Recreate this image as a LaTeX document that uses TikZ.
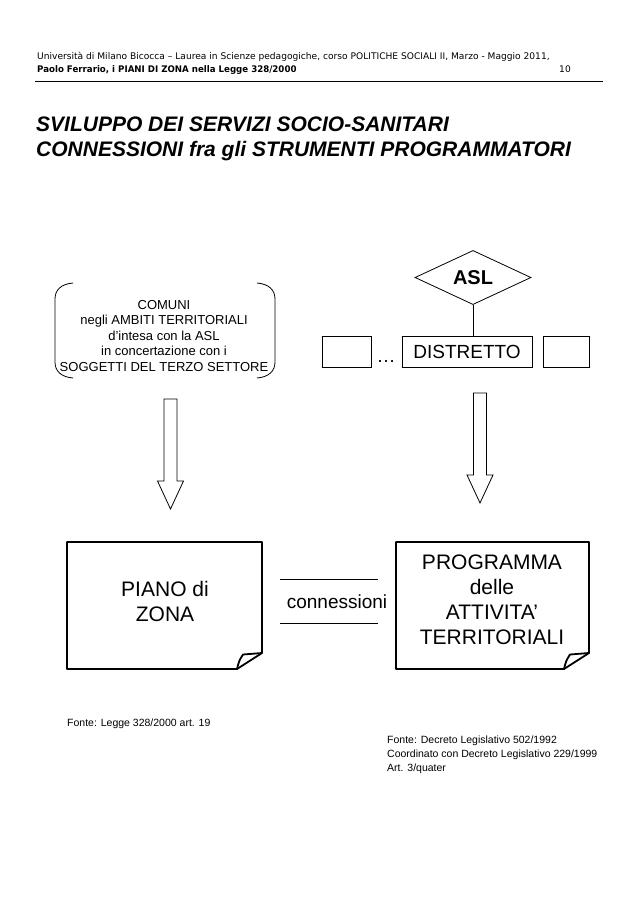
\documentclass[tikz,border=0pt]{standalone}
\usepackage{fontspec}
\setmainfont{Liberation Sans}
\newfontfamily\hdrfont{DejaVu Sans}
\usetikzlibrary{shapes.geometric}
\newcommand\mynote[4]{%
  \draw[notepen] (#1,#2) -- (#3,#2) -- (#3,#4-16) -- (#3-25,#4) -- (#1,#4) -- cycle;
  \draw[notepen] (#3-25,#4) .. controls (#3-23,#4-8) .. (#3-19,#4-14.5) .. controls (#3-10,#4-15.5) .. (#3,#4-16);}
\newcommand\blkarrow[4]{%
  \draw[thinpen] (#1-6.5,#2) -- (#1+6.5,#2) -- (#1+6.5,#3) -- (#1+13,#3) -- (#1,#4) -- (#1-13,#3) -- (#1-6.5,#3) -- cycle;}
\begin{document}
\begin{tikzpicture}[x=1pt,y=-1pt,
  thinpen/.style={line width=0.8pt},
  notepen/.style={line width=1.8pt, line join=round},
  hdr/.style={inner sep=0, font=\hdrfont\fontsize{9.1}{11}\selectfont},
  ttl/.style={inner sep=0, anchor=base west, font=\fontsize{21}{25}\selectfont\bfseries\itshape},
  boxtxt/.style={inner sep=0, align=center, font=\fontsize{21}{25}\selectfont},
  smallbox/.style={draw, thinpen, inner sep=0, minimum height=31},
  fonte/.style={inner sep=0, align=left, anchor=base west, font=\fontsize{10.5}{14}\selectfont}]
\useasboundingbox (0,0) rectangle (638,903);
\fill[white] (0,0) rectangle (638,903);
% header
\node[hdr, anchor=base west] (h1) at (37,59) {Università di Milano Bicocca – Laurea in Scienze pedagogiche, corso POLITICHE SOCIALI II, Marzo - Maggio 2011,};
\node[hdr, anchor=base west] (h2) at (37,72) {\scalebox{0.95}[1]{\bfseries Paolo Ferrario, i PIANI DI ZONA nella Legge 328/2000}};
\node[hdr, anchor=base east] (pg) at (571,72) {10};
\coordinate (rl) at (35,81);
\coordinate (rr) at (603,81);
\draw[line width=1pt] (rl) -- (rr);
% title
\node[ttl] (t1) at (36,131) {SVILUPPO DEI SERVIZI SOCIO-SANITARI};
\node[ttl] (t2) at (36,156) {CONNESSIONI fra gli STRUMENTI PROGRAMMATORI};
% comuni
\node[inner sep=0, align=center, font=\fontsize{13}{15.5}\selectfont] (comuni) at (164,336)
  {COMUNI\\negli AMBITI TERRITORIALI\\d’intesa con la ASL\\in concertazione con i\\SOGGETTI DEL TERZO SETTORE};
\draw[thinpen] (73,283) .. controls (61,284) and (55,290) .. (55,299) -- (55,362) .. controls (55,371) and (61,377) .. (73,378);
\draw[thinpen] (257,283) .. controls (269,284) and (275,290) .. (275,299) -- (275,362) .. controls (275,371) and (269,377) .. (257,378);
% ASL / distretto
\node[diamond, draw, thinpen, minimum width=116, minimum height=51, inner sep=0, font=\fontsize{20}{24}\selectfont\bfseries] (asl) at (473,277.5) {ASL};
\node[smallbox, minimum width=130, font=\fontsize{19}{22}\selectfont] (distretto) at (467,351.5) {DISTRETTO};
\node[smallbox, minimum width=49] (lbox) at (346.5,351.5) {};
\node[smallbox, minimum width=46] (rbox) at (566,351.5) {};
\node[inner sep=0, anchor=base, font=\fontsize{19}{22}\selectfont] (dots) at (386,362) {\dots};
\draw[thinpen] (asl.south) -- (asl.south |- distretto.north);
% arrows
\blkarrow{170.5}{399}{481}{509}
\blkarrow{480}{393}{475}{503}
% boxes
\mynote{67}{542}{262}{669}
\mynote{396}{542}{589}{669}
\node[boxtxt] (piano) at (165,601) {PIANO di\\ZONA};
\node[boxtxt] (programma) at (492,600) {PROGRAMMA\\delle\\ATTIVITA’\\TERRITORIALI};
% connessioni
\node[inner sep=0, font=\fontsize{19}{22}\selectfont] (conn) at (337,602) {connessioni};
\coordinate (c1l) at (280,579); \coordinate (c1r) at (378,579);
\coordinate (c2l) at (280,623); \coordinate (c2r) at (378,623);
\draw[thinpen] (c1l) -- (c1r);
\draw[thinpen] (c2l) -- (c2r);
% sources
\node[fonte] (f1) at (67,726) {Fonte: Legge 328/2000 art. 19};
\node[fonte] (f2) at (387,771) {Fonte: Decreto Legislativo 502/1992\\Coordinato con Decreto Legislativo 229/1999\\Art. 3/quater};
\end{tikzpicture}
\end{document}
